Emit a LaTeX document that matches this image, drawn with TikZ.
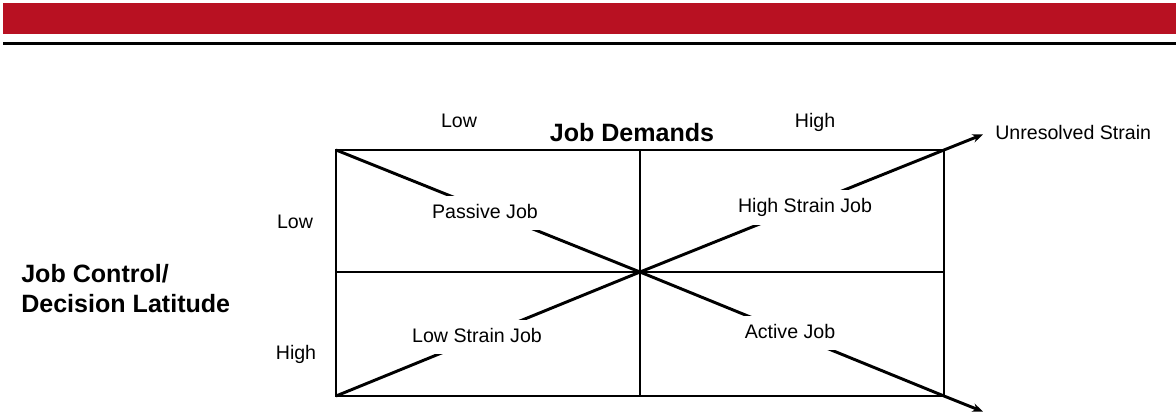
\documentclass[tikz,border=0pt]{standalone}
\usepackage{fontspec}
\setmainfont{Liberation Sans}
\usetikzlibrary{arrows.meta}
\definecolor{barred}{RGB}{184,17,34}
\tikzset{
  gridline/.style={line width=2.2pt, line cap=rect},
  arrowline/.style={line width=2.2pt, -{Stealth[length=8pt,width=6.5pt]}},
  small/.style={font=\fontsize{14.7}{17}\selectfont, inner sep=0pt},
  cell/.style={font=\fontsize{14.7}{17}\selectfont, fill=white, text height=10.6pt, text depth=3pt, minimum height=26pt, inner xsep=6pt},
  title/.style={font=\fontsize{18.8}{22.5}\selectfont\bfseries, inner sep=0pt}
}
\begin{document}
\begin{tikzpicture}[x=0.75pt,y=-0.75pt]
\useasboundingbox (0,0) rectangle (1176,414);
% header
\fill[barred] (3,3) rectangle (1176,34);
\fill[black] (3,42) rectangle (1176,45);
% grid coordinates
\coordinate (tl) at (336,150);
\coordinate (tm) at (640,150);
\coordinate (tr) at (944,150);
\coordinate (ml) at (336,272);
\coordinate (c)  at (640,272);
\coordinate (mr) at (944,272);
\coordinate (bl) at (336,396);
\coordinate (bm) at (640,396);
\coordinate (br) at (944,396);
\coordinate (ur) at (983,134.4);
\coordinate (lr) at (983,411.6);
% box and dividers
\draw[gridline] (tl) rectangle (br);
\draw[gridline] (tm) -- (bm);
\draw[gridline] (ml) -- (mr);
% diagonals
\draw[arrowline] (tl) -- (c) -- (br) -- (lr);
\draw[arrowline] (bl) -- (c) -- (tr) -- (ur);
% cell labels
\node[cell] (passive) at (485,213) {Passive Job};
\node[cell] (highstrain) at (805,207.5) {High Strain Job};
\node[cell] (lowstrain) at (477,337) {Low Strain Job};
\node[cell] (active) at (790,333) {Active Job};
% axis labels
\node[title] (demands) at (632,133) {Job Demands};
\node[small, anchor=base] (dlow) at (459,127) {Low};
\node[small, anchor=base] (dhigh) at (815,127) {High};
\node[small, anchor=base] (clow) at (295,228) {Low};
\node[small, anchor=base] (chigh) at (296,359) {High};
\node[title, anchor=west, align=left] (control) at (21,289) {Job Control/\\Decision Latitude};
\node[small, anchor=west] (unres) at (995,132) {Unresolved Strain};
\end{tikzpicture}
\end{document}
